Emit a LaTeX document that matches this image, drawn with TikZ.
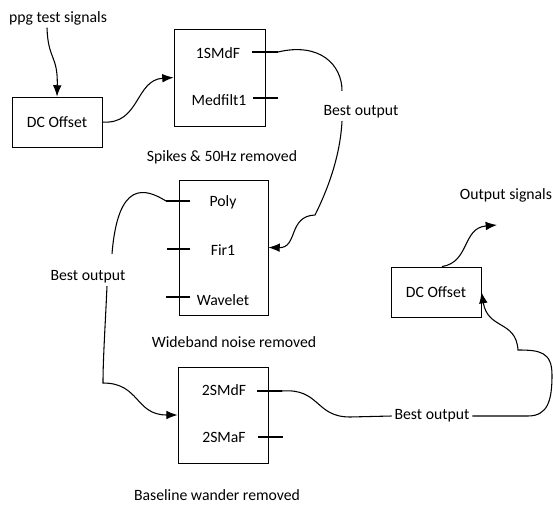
\documentclass[tikz,border=0pt]{standalone}
\usepackage{fontspec}
\setmainfont{Carlito}
\usetikzlibrary{arrows.meta}

\begin{document}
\begin{tikzpicture}[x=0.75pt, y=-0.75pt, >={Latex[length=8.5pt,width=6.5pt]},
		blk/.style={draw, line width=0.6pt, minimum width=67.5pt},
		wire/.style={line width=0.8pt},
		every node/.style={font=\fontsize{11.8}{14}\selectfont, inner sep=2pt}]
	
	\useasboundingbox (0,0) rectangle (553,506);
	
	% --- 1. 方框 ---
	\node[blk, minimum height=37.5pt] (dc1) at (57,122) {DC Offset};
	\node[blk, minimum width=68.25pt, minimum height=72.75pt] (f1) at (219.5,77.5) {};
	\node[blk, minimum width=66.75pt, minimum height=101.25pt] (f2) at (223.5,247.5) {};
	\node[blk, minimum height=72pt] (f3) at (223,415) {};
	\node[blk, minimum height=37.5pt] (dc2) at (436,292) {DC Offset};
	
	% --- 2. 方框内的滤波器名 ---
	\node (smdf1) at (218,53) {1SMdF};
	\node (medf) at (219,100) {Medfilt1};
	\node (poly) at (223,202) {Poly};
	\node (fir) at (223,250) {Fir1};
	\node (wav) at (223,300) {Wavelet};
	\node (smdf2) at (224,390) {2SMdF};
	\node (smaf) at (224,437) {2SMaF};
	
	% --- 3. 文字说明 ---
	\node (ppg) at (58,18) {ppg test signals};
	\node (cap1) at (222,157) {Spikes \& 50Hz removed};
	\node (cap2) at (234,342) {Wideband noise removed};
	\node (cap3) at (217,495) {Baseline wander removed};
	\node (best1) at (361,112) {Best output};
	\node (best2) at (88,277) {Best output};
	\node (best3) at (432,416) {Best output};
	\node (outs) at (506,195) {Output signals};
	\coordinate (out) at (497,225);
	
	% --- 4. 输出短线 ---
	\draw[wire] (252,52) -- (278,52) coordinate(a1);
	\draw[wire] (253,98) -- (278,98);
	\draw[wire] (190,201) -- (166,201) coordinate(b1);
	\draw[wire] (190,249) -- (167,249);
	\draw[wire] (190,297) -- (166,297);
	\draw[wire] (257,391) -- (282,391) coordinate(c1);
	\draw[wire] (258,437) -- (283,437);
	
	% --- 5. 连线 ---
	\draw[wire, ->] ([xshift=-8.25pt]ppg.south) .. controls (48,60) and (58,55) .. (dc1.north);
	\draw[wire, ->] (dc1.east) .. controls (140,125) and (135,80) .. (f1.west);
	
	% 第一级 -> 第二级
	\draw[wire] (a1) .. controls (320,42) and (342,65) .. ([xshift=-14.25pt, yshift=9pt]best1.north);
	\draw[wire, ->] ([xshift=-14.25pt]best1.south) .. controls (340,160) and (325,195) .. (315,215)
	.. controls (288,216) and (298,248) .. (f2.east);
	
	% 第二级 -> 第三级
	\draw[wire] (b1) .. controls (145,188) and (118,180) .. ([xshift=18pt, yshift=10.5pt]best2.north);
	\draw[wire, ->] ([xshift=14.25pt]best2.south) .. controls (105,330) and (103,360) .. (103,383)
	.. controls (140,383) and (135,415) .. (f3.west);
	
	% 第三级 -> 输出
	\draw[wire] (c1) .. controls (320,388) and (315,417) .. (350,417) -- (best3.west);
	\draw[wire, ->] (best3.east) -- (528,416) .. controls (548,416) and (552,400) .. (552,375)
	.. controls (552,352) and (540,350) .. (518,350) .. controls (516,320) and (488,330) .. (dc2.east);
	\draw[wire, ->] ([xshift=4.5pt]dc2.north) .. controls (470,262) and (462,228) .. (out);
	
\end{tikzpicture}
\end{document}
